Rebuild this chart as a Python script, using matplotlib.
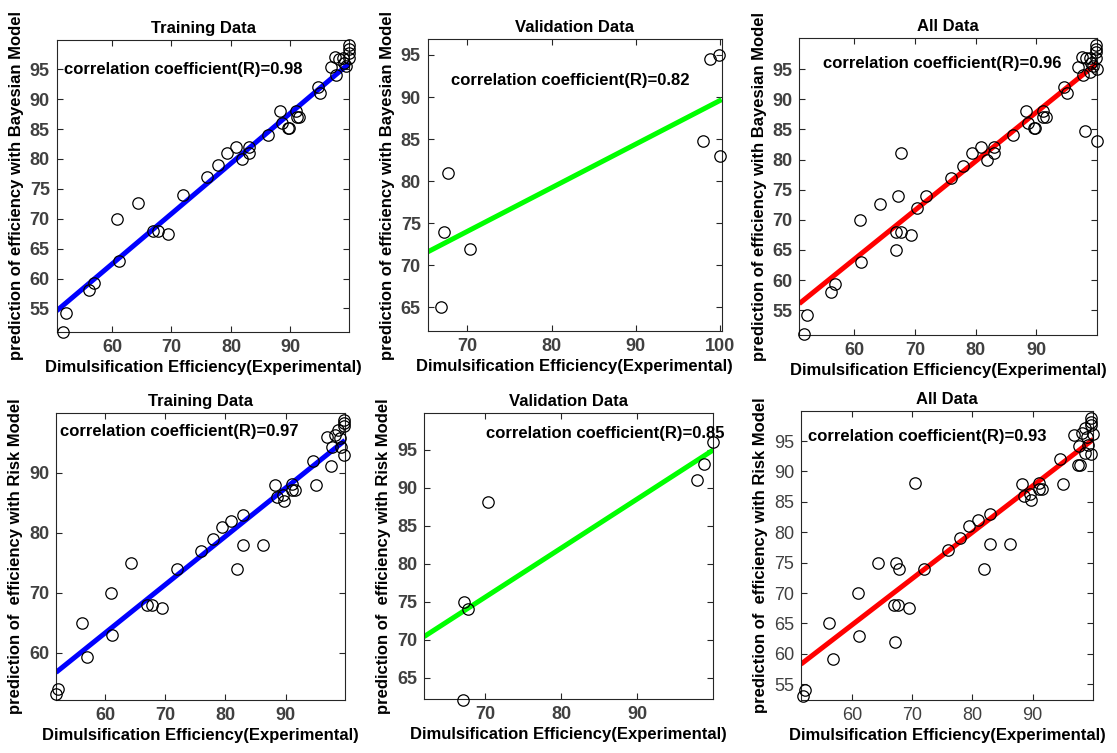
import matplotlib
matplotlib.use("Agg")
import matplotlib.pyplot as plt
import numpy as np

plt.rcParams['font.family'] = ['Liberation Sans', 'DejaVu Sans']

# ---------------- data ----------------
train_x = [51.8, 52.2, 56.2, 56.9, 60.9, 61.2, 64.3, 66.9, 67.7, 69.4,
           71.9, 75.9, 77.9, 79.4, 80.9, 81.9, 83.0, 83.0, 86.2, 88.2,
           88.6, 89.6, 89.7, 91.0, 91.1, 91.5, 94.6, 95.0,
           96.9, 97.5, 97.7, 98.2, 98.8, 99.0, 99.3, 99.8, 99.8, 99.8, 99.8]
bayes_train_y = [51.1, 54.2, 58.0, 59.3, 70.0, 63.0, 72.6, 68.0, 68.0, 67.5,
                 74.0, 77.0, 79.0, 81.0, 82.0, 80.0, 82.0, 81.0, 84.0, 88.0,
                 86.0, 85.2, 85.2, 88.0, 87.0, 87.0, 92.0, 91.0,
                 95.3, 97.0, 94.0, 96.8, 96.9, 96.0, 95.5, 99.0, 98.4, 97.8, 96.9]
risk_train_y = [53.1, 54.0, 65.0, 59.2, 70.0, 63.0, 75.0, 68.0, 68.0, 67.5,
                74.0, 77.0, 79.0, 81.0, 82.0, 74.0, 83.0, 78.0, 78.0, 88.0,
                86.0, 86.3, 85.3, 88.1, 87.1, 87.1, 92.0, 88.0,
                96.0, 91.1, 94.2, 96.3, 97.1, 95.7, 94.3, 92.95, 98.8, 98.2, 97.7]

bayes_val_x = [66.9, 67.2, 67.7, 70.3, 98.0, 98.8, 99.9, 100.0]
bayes_val_y = [65.0, 74.0, 81.0, 72.0, 84.8, 94.5, 95.0, 83.0]
risk_val_x = [67.1, 67.3, 67.8, 70.4, 97.9, 98.8, 100.0]
risk_val_y = [62.0, 75.0, 74.0, 88.1, 91.0, 93.1, 96.1]

# fitted lines (end points)
fit_bayes_train = ([50.7, 99.9], [54.6, 96.0])
fit_bayes_val = ([65.3, 100.2], [71.6, 89.7])
fit_bayes_all = ([51.0, 100.0], [56.1, 96.0])
fit_risk_train = ([51.8, 99.9], [56.7, 95.4])
fit_risk_val = ([62.0, 100.0], [70.4, 95.0])
fit_risk_all = ([51.5, 100.1], [58.3, 95.3])

r_values = ["0.98", "0.82", "0.96", "0.97", "0.85", "0.93"]
titles = ["Training Data", "Validation Data", "All Data",
          "Training Data", "Validation Data", "All Data"]
xlabel = "Dimulsification Efficiency(Experimental)"
ylabel_bayes = "prediction of efficiency with Bayesian Model"
ylabel_risk = "prediction of  efficiency with Risk Model"

bayes_all_x = train_x + bayes_val_x
bayes_all_y = bayes_train_y + bayes_val_y
risk_all_x = train_x + risk_val_x
risk_all_y = risk_train_y + risk_val_y

panels = [
    dict(pos=[56.7, 40, 349.3, 331.7], x=train_x, y=bayes_train_y, fit=fit_bayes_train, c='#0000ff',
         xlim=(50.7, 99.9), ylim=(51.1, 99.9), xt=[60, 70, 80, 90], yt=[55, 60, 65, 70, 75, 80, 85, 90, 95],
         txt=(51.9, 95.0), yl=ylabel_bayes, tw='bold'),
    dict(pos=[427.7, 39, 721.7, 331], x=bayes_val_x, y=bayes_val_y, fit=fit_bayes_val, c='#00ff00',
         xlim=(65.3, 100.2), ylim=(62.2, 96.9), xt=[70, 80, 90, 100], yt=[65, 70, 75, 80, 85, 90, 95],
         txt=(68.1, 92.0), yl=ylabel_bayes, tw='bold'),
    dict(pos=[799.3, 38.3, 1097.3, 335], x=bayes_all_x, y=bayes_all_y, fit=fit_bayes_all, c='#ff0000',
         xlim=(51.0, 100.0), ylim=(50.9, 100.1), xt=[60, 70, 80, 90], yt=[55, 60, 65, 70, 75, 80, 85, 90, 95],
         txt=(54.9, 96.0), yl=ylabel_bayes, tw='bold'),
    dict(pos=[56, 413.3, 345, 700], x=train_x, y=risk_train_y, fit=fit_risk_train, c='#0000ff',
         xlim=(51.8, 99.9), ylim=(52.1, 99.9), xt=[60, 70, 80, 90], yt=[60, 70, 80, 90],
         txt=(52.5, 96.8), yl=ylabel_risk, tw='bold'),
    dict(pos=[424, 412.7, 713.3, 699.3], x=risk_val_x, y=risk_val_y, fit=fit_risk_val, c='#00ff00',
         xlim=(62.0, 100.0), ylim=(62.15, 99.9), xt=[70, 80, 90], yt=[65, 70, 75, 80, 85, 90, 95],
         txt=(70.1, 97.2), yl=ylabel_risk, tw='bold'),
    dict(pos=[801, 410.7, 1093.3, 700], x=risk_all_x, y=risk_all_y, fit=fit_risk_all, c='#ff0000',
         xlim=(51.5, 100.1), ylim=(52.4, 100.0), xt=[60, 70, 80, 90], yt=[55, 60, 65, 70, 75, 80, 85, 90, 95],
         txt=(52.7, 95.7), yl=ylabel_risk, tw='normal'),
]

W, H = 1117, 753
fig = plt.figure(figsize=(W / 100, H / 100), dpi=100)
fig.patch.set_facecolor('white')

for i, p in enumerate(panels):
    l, t, r, b = p['pos']
    ax = fig.add_axes([l / W, 1 - b / H, (r - l) / W, (b - t) / H])
    ax.plot(p['fit'][0], p['fit'][1], color=p['c'], lw=3.6, solid_capstyle='butt', zorder=2)
    ax.plot(p['x'], p['y'], linestyle='none', marker='o', markersize=8.2,
            markerfacecolor='none', markeredgecolor='black', markeredgewidth=0.9,
            clip_on=False, zorder=3)
    ax.set_xlim(*p['xlim'])
    ax.set_ylim(*p['ylim'])
    ax.set_xticks(p['xt'])
    ax.set_yticks(p['yt'])
    ax.tick_params(direction='in', top=True, right=True, length=4, width=0.8,
                   labelsize=13, labelcolor='#404040', color='#262626', pad=5)
    for lab in ax.get_xticklabels() + ax.get_yticklabels():
        lab.set_fontweight(p['tw'])
    for s in ax.spines.values():
        s.set_linewidth(0.8)
        s.set_color('#262626')
    ax.set_title(titles[i], fontsize=12, fontweight='bold', pad=5)
    ax.set_xlabel(xlabel, fontsize=12, fontweight='bold', labelpad=3)
    ax.set_ylabel(p['yl'], fontsize=12, fontweight='bold', labelpad=4)
    ax.text(p['txt'][0], p['txt'][1], "correlation coefficient(R)=" + r_values[i],
            fontsize=12, fontweight='bold', va='center', ha='left', zorder=4)

fig.savefig("out.png", dpi=100, facecolor='white')
